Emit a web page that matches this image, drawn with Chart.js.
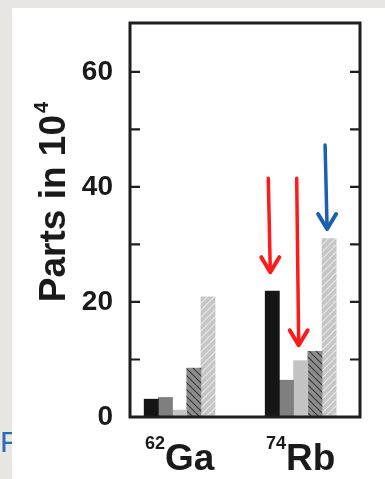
<!DOCTYPE html>
<html>
<head>
<meta charset="utf-8">
<script src="https://cdn.jsdelivr.net/npm/chart.js@4.4.1/dist/chart.umd.min.js"></script>
<style>
  html, body { margin: 0; padding: 0; }
  body { width: 385px; height: 479px; background: #e8e6e3; position: relative; overflow: hidden; }
  #fig-ref { position: absolute; left: 0; top: 427px; font: 30px/30px "Liberation Sans", Arial, sans-serif; color: #2a6db5; z-index: 0; }
  #panel { position: absolute; left: 12px; top: 8px; right: 0; bottom: 0; background: #fff; z-index: 1; }
  #wrap { position: absolute; left: 0; top: 0; width: 385px; height: 479px; z-index: 2; }
</style>
</head>
<body>
<div id="fig-ref">F</div>
<div id="panel"></div>
<div id="wrap"><canvas id="chart"></canvas></div>
<script>
const categories = ["62Ga", "74Rb"];
const seriesBlack = [3.1, 21.9];
const seriesGray = [3.4, 6.4];
const seriesLight = [1.2, 9.8];
const seriesHatchDark = [8.5, 11.4];
const seriesHatchLight = [20.9, 31.0];
const yTickLabels = [0, 20, 40, 60];
const yMax = 68.5;

// arrows: which bar they point at, and where they start / end (in y units)
const arrowDataset = [0, 2, 4];
const arrowCategory = [1, 1, 1];
const arrowTail = [41.5, 41.5, 47.3];
const arrowTip = [25.0, 12.3, 32.5];

const FONT = '"Liberation Sans", Arial, Helvetica, sans-serif';
const arrowColors = ["#ff1a1a", "#ff1a1a", "#1d5fae"];

function hatch(bg, fg, dir) {
  const s = 7;
  const c = document.createElement("canvas");
  c.width = s; c.height = s;
  const g = c.getContext("2d");
  g.fillStyle = bg;
  g.fillRect(0, 0, s, s);
  g.strokeStyle = fg;
  g.lineWidth = 1.2;
  g.beginPath();
  for (let k = -s; k <= s; k += s) {
    if (dir > 0) { g.moveTo(k, s); g.lineTo(k + s, 0); }
    else { g.moveTo(k, 0); g.lineTo(k + s, s); }
  }
  g.stroke();
  return g.createPattern(c, "repeat");
}

const xs = categories.map((_, i) => i + 1);
const points = vals => vals.map((v, i) => ({ x: xs[i], y: v }));

const decorations = {
  id: "decorations",
  afterDraw(chart) {
    const { ctx, chartArea: a, scales: { x, y } } = chart;
    ctx.save();

    // frame + inward ticks
    ctx.strokeStyle = "#1e1e1e";
    ctx.lineWidth = 3;
    ctx.strokeRect(a.left, a.top, a.right - a.left, a.bottom - a.top);
    ctx.lineWidth = 2.2;
    y.ticks.forEach(t => {
      if (t.value === 0 || t.value % 10 !== 0) return;
      const py = y.getPixelForValue(t.value);
      ctx.beginPath();
      ctx.moveTo(a.left, py); ctx.lineTo(a.left + 10, py);
      ctx.moveTo(a.right, py); ctx.lineTo(a.right - 10, py);
      ctx.stroke();
    });

    // arrows
    arrowDataset.forEach((ds, i) => {
      const bar = chart.getDatasetMeta(ds).data[arrowCategory[i]];
      const x0 = bar.x - 4, x1 = bar.x - 2;
      const y0 = y.getPixelForValue(arrowTail[i]);
      const y1 = y.getPixelForValue(arrowTip[i]);
      ctx.strokeStyle = arrowColors[i];
      ctx.lineCap = "round";
      ctx.lineJoin = "round";
      ctx.lineWidth = 3.5;
      ctx.beginPath();
      ctx.moveTo(x0, y0); ctx.lineTo(x1, y1 - 2);
      ctx.stroke();
      ctx.lineWidth = 4;
      ctx.beginPath();
      ctx.moveTo(x1 - 9, y1 - 16); ctx.lineTo(x1, y1 - 1); ctx.lineTo(x1 + 9, y1 - 16);
      ctx.stroke();
    });

    // category labels with mass number as superscript
    ctx.fillStyle = "#1a1a1a";
    ctx.textBaseline = "alphabetic";
    ctx.textAlign = "left";
    categories.forEach((c, i) => {
      const m = c.match(/^(\d+)(.*)$/);
      ctx.font = "bold 18px " + FONT;
      const ws = ctx.measureText(m[1]).width;
      ctx.font = "bold 37px " + FONT;
      const wm = ctx.measureText(m[2]).width;
      const cx = x.getPixelForValue(xs[i]);
      const left = cx - (ws + wm) / 2;
      ctx.font = "bold 18px " + FONT;
      ctx.fillText(m[1], left, 449);
      ctx.font = "bold 37px " + FONT;
      ctx.fillText(m[2], left + ws, 470);
    });

    // y axis title
    ctx.translate(64.5, (a.top + a.bottom) / 2);
    ctx.rotate(-Math.PI / 2);
    ctx.font = "bold 37px " + FONT;
    const main = "Parts in 10";
    const wMain = ctx.measureText(main).width;
    ctx.font = "bold 20px " + FONT;
    const wSup = ctx.measureText("4").width;
    const start = -(wMain + wSup + 2) / 2 + 18;
    ctx.font = "bold 37px " + FONT;
    ctx.fillText(main, start, 0);
    ctx.font = "bold 20px " + FONT;
    ctx.fillText("4", start + wMain + 2, -17);

    ctx.restore();
  }
};

new Chart(document.getElementById("chart"), {
  type: "bar",
  data: {
    datasets: [
      { label: "Set 1", data: points(seriesBlack), backgroundColor: "#151515" },
      { label: "Set 2", data: points(seriesGray), backgroundColor: "#7f7f7f" },
      { label: "Set 3", data: points(seriesLight), backgroundColor: "#c4c4c4" },
      { label: "Set 4", data: points(seriesHatchDark), backgroundColor: hatch("#8c8c8c", "#3a3a3a", -1) },
      { label: "Set 5", data: points(seriesHatchLight), backgroundColor: hatch("#c6c6c6", "#e8e8e8", 1) }
    ]
  },
  options: {
    responsive: true,
    maintainAspectRatio: false,
    animation: false,
    layout: { padding: { left: 0, top: 23, right: 25, bottom: 62 } },
    datasets: { bar: { barThickness: 14.2, borderWidth: 0 } },
    plugins: { legend: { display: false }, tooltip: { enabled: false } },
    scales: {
      x: { type: "linear", display: false, offset: false, min: 0.59, max: 2.49 },
      y: {
        min: 0,
        max: yMax,
        afterFit: s => { s.width = 130; },
        grid: { display: false, drawTicks: true, tickLength: 17 },
        border: { display: false },
        ticks: {
          stepSize: 10,
          autoSkip: false,
          padding: 0,
          color: "#1a1a1a",
          font: { family: FONT, size: 28, weight: "bold" },
          callback: v => yTickLabels.includes(v) ? String(v) : ""
        }
      }
    }
  },
  plugins: [decorations]
});
</script>
</body>
</html>
